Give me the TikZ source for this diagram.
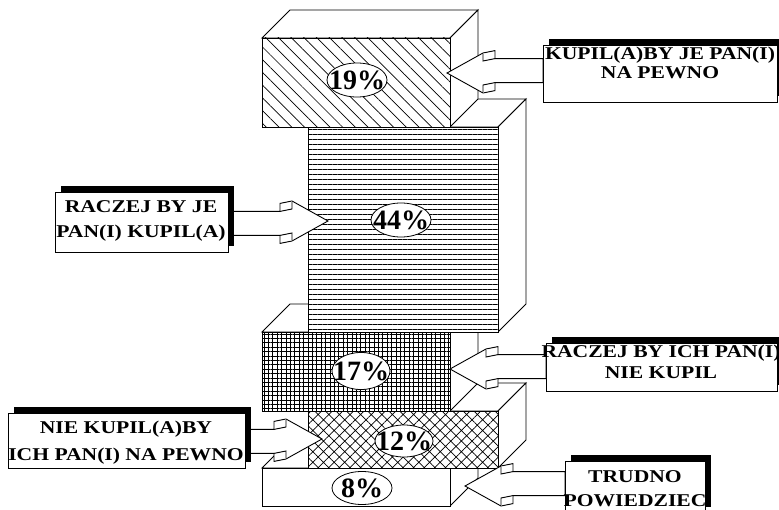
\documentclass[tikz,border=0pt]{standalone}
\usepackage{fontspec}
\usepackage{tikz}
\usetikzlibrary{calc,shapes.geometric,shadows,patterns.meta,backgrounds}

\newfontfamily\lblfont{Liberation Serif}[FakeStretch=1.2]
\newfontfamily\pctfont{Liberation Serif}

% block: front corner x, y, width, height, pattern
\newcommand\drawblock[5]{%
  \filldraw[face] (#1,#2) -- ++(28,-28) -- ++(#3,0) -- ++(-28,28) -- cycle;
  \filldraw[face] ({#1+#3},#2) -- ++(28,-28) -- ++(0,#4) -- ++(-28,28) -- cycle;
  \draw[face,#5] (#1,#2) rectangle ++(#3,#4);
}
% fat arrow: tip, side of label box, 1 = points right / -1 = points left
\newcommand\fatarrow[3]{%
  \coordinate (bu) at ($(#1)+({-36*#3},-20)$);
  \coordinate (ou) at ($(#1)+({-48*#3},{-20+2.4*#3})$);
  \coordinate (iu) at ($(#1)+({-48*#3},{-12+2.4*#3})$);
  \coordinate (ju) at ($(#1)+({-36*#3},-12)$);
  \coordinate (bl) at ($(#1)+({-36*#3},20)$);
  \coordinate (ol) at ($(#1)+({-48*#3},{20+2.4*#3})$);
  \coordinate (il) at ($(#1)+({-48*#3},{12+2.4*#3})$);
  \coordinate (jl) at ($(#1)+({-36*#3},12)$);
  \filldraw[arrowbody] (#1) -- (bu) -- (ou) -- (iu) -- (iu -| #2) -- (il -| #2)
    -- (il) -- (ol) -- (bl) -- cycle;
  \draw[arrowbody] (bu) -- (ju) -- (iu) (bl) -- (jl) -- (il);
}

\begin{document}
\begin{tikzpicture}[x=1pt,y=-1pt,
    face/.style={draw=black,fill=white,line width=0.9pt},
    arrowbody/.style={draw=black,fill=white,line width=0.9pt},
    lblbox/.style={draw=black,fill=white,line width=0.8pt,anchor=north west,inner sep=0pt,
      drop shadow={shadow xshift=6pt,shadow yshift=6pt,fill=black,opacity=1}},
    lbltxt/.style={align=center,inner sep=0pt,text=black,font=\lblfont\bfseries\fontsize{18}{21}\selectfont},
    pct/.style={ellipse,draw=black,fill=white,line width=0.8pt,inner sep=0pt,
      minimum width=60pt,minimum height=34pt},
    pcttxt/.style={inner sep=0pt,text=black,font=\pctfont\bfseries\fontsize{28}{30}\selectfont}]

  \tikzstyle{pat19}=[preaction={fill=white},pattern={Lines[angle=-45,distance=9pt,line width=0.7pt]}]
  \tikzstyle{pat44}=[preaction={fill=white},pattern={Lines[angle=0,distance=5pt,line width=1pt]}]
  \tikzstyle{pat17}=[preaction={fill=white},pattern={Hatch[angle=0,distance=4.4pt,line width=0.7pt]}]
  \tikzstyle{pat12}=[preaction={fill=white},pattern={Hatch[angle=45,distance=7.5pt,line width=0.7pt]}]

  \useasboundingbox (0,0) rectangle (779,510);

  % labels
  \node[lblbox,minimum width=234pt,minimum height=57pt] (kupil) at (543,45) {};
  \node[lbltxt] (kupil-t) at (660,63) {KUPIL(A)BY JE PAN(I)\\[-2.5pt]NA PEWNO};
  \node[lblbox,minimum width=173pt,minimum height=60pt] (raczej) at (55,192) {};
  \node[lbltxt] (raczej-t) at (141,220.5) {RACZEJ BY JE\\[4pt]PAN(I) KUPIL(A)};
  \node[lblbox,minimum width=231pt,minimum height=48pt] (raczejnie) at (546,343) {};
  \node[lbltxt] (raczejnie-t) at (661,361.5) {RACZEJ BY ICH PAN(I)\\NIE KUPIL};
  \node[lblbox,minimum width=237pt,minimum height=55pt] (niekupil) at (8,413) {};
  \node[lbltxt] (niekupil-t) at (126,442.5) {NIE KUPIL(A)BY\\[6pt]ICH PAN(I) NA PEWNO};
  \node[lblbox,minimum width=140pt,minimum height=52pt] (trudno) at (565,461) {};
  \node[lbltxt] (trudno-t) at (635,489) {TRUDNO\\[3pt]POWIEDZIEC};

  \begin{scope}[on background layer]
    \drawblock{262}{468}{188}{38}{}
    \drawblock{308}{411}{190}{57}{pat12}
    \drawblock{262}{332}{188}{79}{pat17}
    \drawblock{308}{127}{190}{205}{pat44}
    \drawblock{262}{38}{188}{89}{pat19}

    \coordinate (t19) at (447,73);
    \coordinate (t44) at (328,221);
    \coordinate (t17) at (450,369);
    \coordinate (t12) at (322,439);
    \coordinate (t8)  at (465,486);
    \fatarrow{t19}{kupil.west}{-1}
    \fatarrow{t44}{raczej.east}{1}
    \fatarrow{t17}{raczejnie.west}{-1}
    \fatarrow{t12}{niekupil.east}{1}
    \fatarrow{t8}{trudno.west}{-1}
  \end{scope}

  \node[pct,label={[pcttxt]center:19\%}] (p19) at (357,80) {};
  \node[pct,label={[pcttxt]center:44\%}] (p44) at (401,220) {};
  \node[pct,minimum width=58pt,minimum height=37pt,label={[pcttxt]center:17\%}] (p17) at (361,371) {};
  \node[pct,minimum width=58pt,minimum height=32pt,label={[pcttxt]center:12\%}] (p12) at (404,441) {};
  \node[pct,minimum height=33pt,label={[pcttxt]center:8\%}] (p8) at (362,488) {};
\end{tikzpicture}
\end{document}
